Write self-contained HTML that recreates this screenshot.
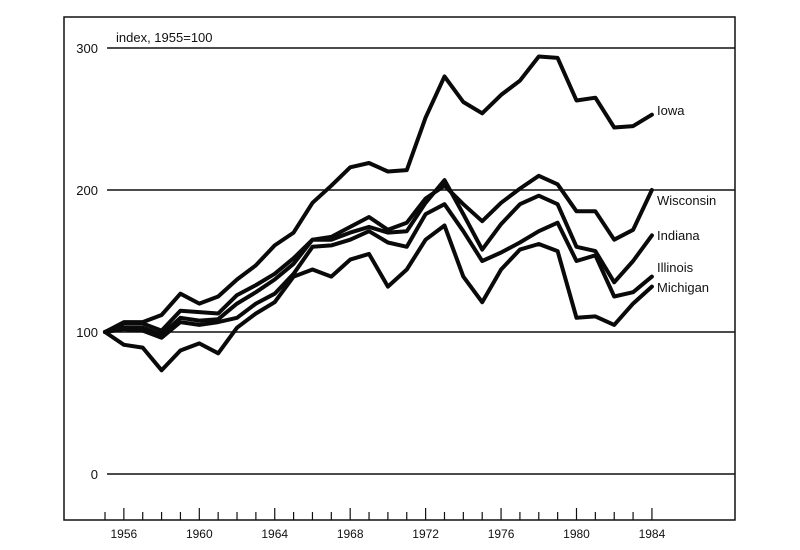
<!DOCTYPE html>
<html><head><meta charset="utf-8"><style>
html,body{margin:0;padding:0;background:#fff}
svg{display:block;font-family:"Liberation Sans",sans-serif}
</style></head><body>
<svg id="chart" width="800" height="550" viewBox="0 0 800 550">
<rect x="64" y="17" width="671" height="503" fill="none" stroke="#111" stroke-width="1.5"/>
<text x="116" y="42" font-size="13" fill="#111">index, 1955=100</text>
<g id="grid"></g><g id="xaxis"></g><g id="series"></g>
</svg>
<script>
const years=[1955,1956,1957,1958,1959,1960,1961,1962,1963,1964,1965,1966,1967,1968,1969,1970,1971,1972,1973,1974,1975,1976,1977,1978,1979,1980,1981,1982,1983,1984];
const seriesNames=["Iowa","Wisconsin","Indiana","Illinois","Michigan"];
const iowa=[100,107,107,112,127,120,125,137,147,161,170,191,203,216,219,213,214,251,280,262,254,267,277,294,293,263,265,244,245,253];
const wisconsin=[100,106,106,101,115,114,113,126,133,141,152,165,167,174,181,172,177,194,203,190,178,191,201,210,204,185,185,165,172,200];
const indiana=[100,103,103,98,110,108,109,120,128,137,148,165,165,170,174,170,171,191,207,183,158,176,190,196,190,160,157,135,150,168];
const illinois=[100,102,101,96,107,105,107,110,120,127,141,160,161,165,171,163,160,183,190,171,150,156,163,171,177,150,154,125,128,139];
const michigan=[100,91,89,73,87,92,85,103,113,121,139,144,139,151,155,132,144,165,175,139,121,144,158,162,157,110,111,105,120,132];
const yTicks=[0,100,200,300];
const xTickLabels=[1956,1960,1964,1968,1972,1976,1980,1984];
const labelOffsets=[0,0,0,0,0];
const NS="http://www.w3.org/2000/svg";
const X=y=>105+(y-1955)*18.86;
const Y=v=>474-v*1.42;
function mk(t,a){const e=document.createElementNS(NS,t);for(const k in a)e.setAttribute(k,a[k]);return e;}
const grid=document.getElementById('grid'),xa=document.getElementById('xaxis'),sg=document.getElementById('series');
yTicks.forEach(v=>{
  const l=mk('line',{x1:107,x2:735,y1:Y(v),y2:Y(v),stroke:'#111','stroke-width':1.6});
  
  
  grid.appendChild(l);
  const t=mk('text',{x:98,y:Y(v)+5,'text-anchor':'end','font-size':13,fill:'#111'});
  t.textContent=v;
  
  
  grid.appendChild(t);
});
for(let yr=1955;yr<=1984;yr++){
  const major=xTickLabels.includes(yr);
  const l=mk('line',{x1:X(yr),x2:X(yr),y1:520,y2:major?508:512,stroke:'#111','stroke-width':1.2});
  
  
  xa.appendChild(l);
}
xTickLabels.forEach(yr=>{
  const t=mk('text',{x:X(yr),y:538,'text-anchor':'middle','font-size':12,fill:'#111'});
  t.textContent=yr;
  
  
  xa.appendChild(t);
});
const all=[iowa,wisconsin,indiana,illinois,michigan];
const lastLabelY=[115,205,240,272,292];
all.forEach((arr,i)=>{
  const pts=arr.map((v,k)=>X(years[k]).toFixed(1)+','+Y(v).toFixed(1)).join(' ');
  const p=mk('polyline',{points:pts,fill:'none',stroke:'#0a0a0a','stroke-width':4,'stroke-linejoin':'round','stroke-linecap':'round'});
  
  
  sg.appendChild(p);
  const t=mk('text',{x:657,y:lastLabelY[i]+labelOffsets[i],'font-size':13,fill:'#111'});
  t.textContent=seriesNames[i];
  
  
  sg.appendChild(t);
});
</script>
</body></html>
